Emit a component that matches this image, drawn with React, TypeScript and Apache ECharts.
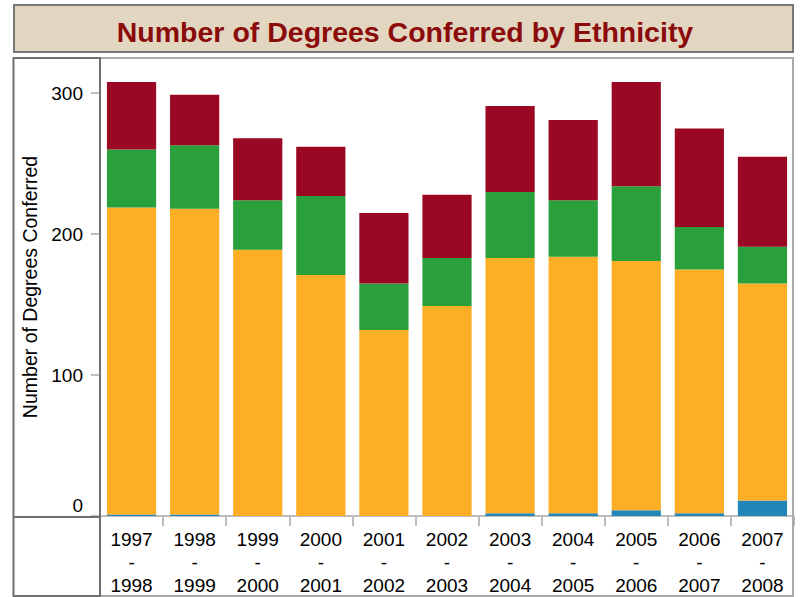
import React, { useEffect, useRef } from "react";
import * as echarts from "echarts";

const categories = [
  "1997\n-\n1998",
  "1998\n-\n1999",
  "1999\n-\n2000",
  "2000\n-\n2001",
  "2001\n-\n2002",
  "2002\n-\n2003",
  "2003\n-\n2004",
  "2004\n-\n2005",
  "2005\n-\n2006",
  "2006\n-\n2007",
  "2007\n-\n2008",
];

const blueValues = [1, 1, 0, 0, 0, 0, 2, 2, 4, 2, 11];
const orangeValues = [218, 217, 189, 171, 132, 149, 181, 182, 177, 173, 154];
const greenValues = [41, 45, 35, 56, 33, 34, 47, 40, 53, 30, 26];
const redValues = [48, 36, 44, 35, 50, 45, 61, 57, 74, 70, 64];

const titleText = "Number of Degrees Conferred by Ethnicity";
const yAxisName = "Number of Degrees Conferred";

const FONT = "'Liberation Sans', Arial, sans-serif";

export default function App() {
  const ref = useRef<HTMLDivElement>(null);

  useEffect(() => {
    if (!ref.current) return;
    const chart = echarts.init(ref.current, undefined, { renderer: "svg" });
    const mk = (name: string, data: number[], color: string) => ({
      name,
      type: "bar",
      stack: "total",
      data,
      barCategoryGap: "22%",
      itemStyle: { color },
    });
    chart.setOption({
      animation: false,
      backgroundColor: "#ffffff",
      grid: { left: 100, right: 7, top: 58, bottom: 80, containLabel: false },
      xAxis: {
        type: "category",
        data: categories,
        axisLine: { show: true, lineStyle: { color: "#bdbdbd", width: 2 } },
        axisTick: { show: true, length: 10, lineStyle: { color: "#bdbdbd", width: 2 } },
        axisLabel: {
          color: "#000",
          fontSize: 19,
          fontFamily: FONT,
          lineHeight: 23,
          margin: 12,
          interval: 0,
        },
      },
      yAxis: {
        type: "value",
        min: 0,
        max: 325,
        interval: 100,
        name: yAxisName,
        nameLocation: "middle",
        nameGap: 57,
        nameTextStyle: { color: "#000", fontSize: 19.5, fontFamily: FONT },
        splitLine: { show: false },
        axisLine: { show: true, lineStyle: { color: "#c8c8c8", width: 2 } },
        axisTick: { show: true, length: 9, lineStyle: { color: "#c0c0c0", width: 2 } },
        axisLabel: {
          color: "#000",
          fontSize: 19,
          fontFamily: FONT,
          margin: 17,
          showMaxLabel: false,
          formatter: (v: number) => (v === 0 ? "{z|0}" : v % 100 === 0 ? String(v) : ""),
          rich: {
            z: { fontSize: 19, fontFamily: FONT, color: "#000", padding: [0, 0, 22, 0] },
          },
        },
      },
      series: [
        mk("Blue", blueValues, "#2286b9"),
        mk("Orange", orangeValues, "#feae24"),
        mk("Green", greenValues, "#2aa03c"),
        mk("Red", redValues, "#9a0824"),
      ],
      graphic: [
        {
          type: "rect",
          shape: { x: 14, y: 5, width: 779, height: 47 },
          style: { fill: "#e3d6c1", stroke: "#777777", lineWidth: 2 },
          z: 0,
        },
        {
          type: "text",
          x: 405,
          y: 32,
          style: {
            text: titleText,
            fill: "#8b0a0a",
            font: `bold 28.5px ${FONT}`,
            textAlign: "center",
            textVerticalAlign: "middle",
          },
          z: 1,
        },
        // plot frame (light)
        {
          type: "polyline",
          shape: { points: [[100, 58], [793, 58], [793, 596], [100, 596]] },
          style: { stroke: "#aaaaaa", lineWidth: 2, fill: "none" },
          z: 10,
        },
        // left column frame (dark)
        {
          type: "rect",
          shape: { x: 13.5, y: 58, width: 86.5, height: 538 },
          style: { stroke: "#707070", lineWidth: 2, fill: "none" },
          z: 10,
        },
        {
          type: "line",
          shape: { x1: 13.5, y1: 517, x2: 100, y2: 517 },
          style: { stroke: "#707070", lineWidth: 2 },
          z: 10,
        },
      ],
    });
    return () => chart.dispose();
  }, []);

  return (
    <div
      ref={ref}
      style={{ position: "fixed", left: 0, top: 0, width: 801, height: 597 }}
    />
  );
}
